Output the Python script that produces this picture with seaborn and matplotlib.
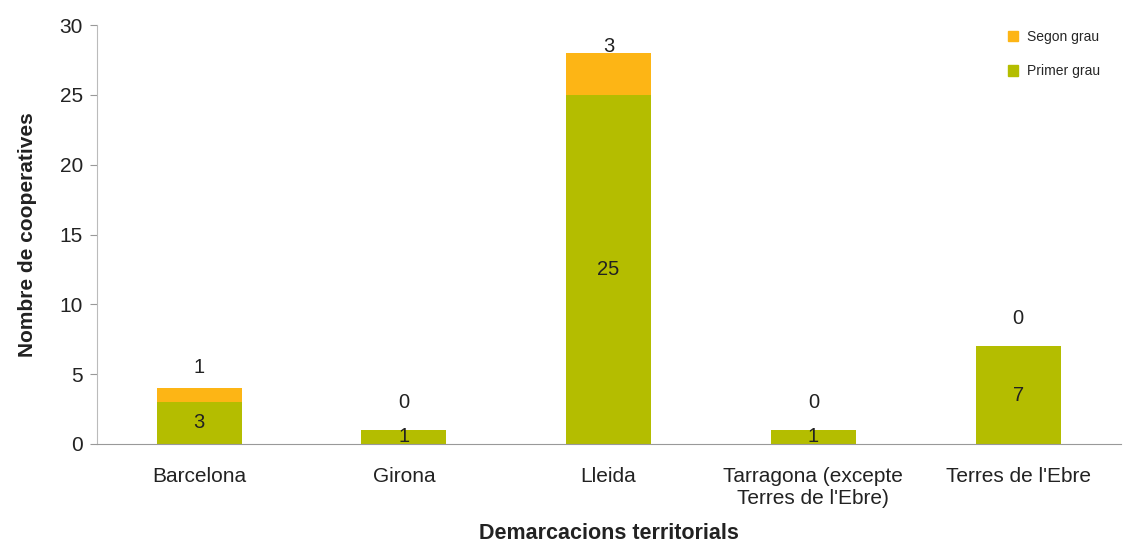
import pandas as pd
import matplotlib.pyplot as plt
import seaborn as sns
from matplotlib.patches import Patch

demarcacions = ['Barcelona', 'Girona', 'Lleida', "Tarragona (excepte\nTerres de l'Ebre)", "Terres de l'Ebre"]
primer_grau = [3, 1, 25, 1, 7]
segon_grau = [1, 0, 3, 0, 0]

verd = '#b4bd00'
taronja = '#fdb515'

df = pd.DataFrame({'demarcacio': demarcacions, 'primer': primer_grau, 'segon': segon_grau})
df['total'] = df['primer'] + df['segon']

sns.set_style('white')
plt.rcParams['font.family'] = ['Liberation Sans', 'DejaVu Sans']

fig = plt.figure(figsize=(11.25, 5.48), dpi=100)
ax = fig.add_axes([0.086, 0.19, 0.91, 0.764])

sns.barplot(data=df, x='demarcacio', y='total', color=taronja, width=0.415, saturation=1,
            linewidth=0, edgecolor='none', ax=ax)
sns.barplot(data=df, x='demarcacio', y='primer', color=verd, width=0.415, saturation=1,
            linewidth=0, edgecolor='none', ax=ax)

# etiquetes
for i, row in df.iterrows():
    ax.text(i, row['primer'] / 2, str(row['primer']), ha='center', va='center', fontsize=14.5, color='#222222')
    ax.annotate(str(row['segon']), (i, row['primer'] + row['segon'] / 2), xytext=(0, 20),
                textcoords='offset points', ha='center', va='center', fontsize=14.5, color='#222222')

ax.set_ylim(0, 30)
ax.set_xlim(-0.5, 4.48)
ax.set_yticks(range(0, 31, 5))
ax.set_xticks([-0.5, 0.5, 1.5, 2.5, 3.5, 4.5], minor=True)
ax.tick_params(axis='x', which='major', length=0, labelsize=15, pad=17, labelcolor='#222222')
ax.tick_params(axis='x', which='minor', length=5, color='#999999', direction='out')
ax.tick_params(axis='y', length=5, color='#999999', direction='out', labelsize=15, left=True,
               labelcolor='#222222', pad=5)
for lab in ax.get_xticklabels():
    lab.set_linespacing(1.15)

for s in ['top', 'right']:
    ax.spines[s].set_visible(False)
ax.spines['left'].set_color('#bbbbbb')
ax.spines['bottom'].set_color('#999999')

ax.set_xlabel('Demarcacions territorials', fontsize=15.5, fontweight='bold', labelpad=11, color='#222222')
ax.set_ylabel('Nombre de cooperatives', fontsize=15, fontweight='bold', labelpad=16, color='#222222')

handles = [Patch(color=taronja, label='Segon grau'), Patch(color=verd, label='Primer grau')]
ax.legend(handles=handles, loc='upper right', frameon=False, fontsize=10,
          handlelength=0.75, handleheight=0.75, handletextpad=0.6, labelspacing=1.45,
          bbox_to_anchor=(0.992, 1.018))

plt.savefig('out.png', dpi=100)
